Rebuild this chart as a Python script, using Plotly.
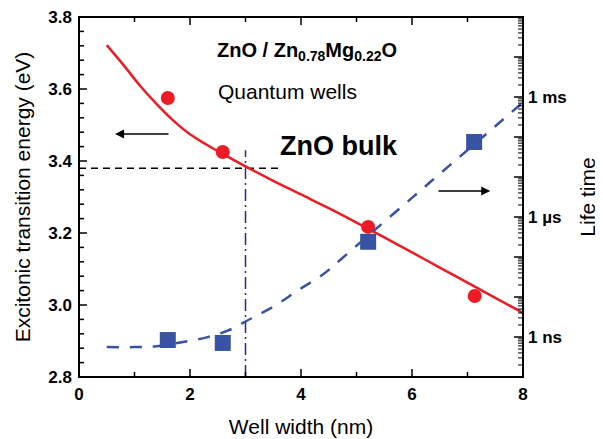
import plotly.graph_objects as go

# measured data points
energy_width = [1.6, 2.59, 5.21, 7.13]
energy_eV = [3.575, 3.425, 3.217, 3.025]
life_width = [1.6, 2.59, 5.21, 7.12]
life_s = [8.4e-10, 7.1e-10, 2.4e-7, 7.5e-5]

# fitted curves
fit_width = [0.5, 0.8, 1.1, 1.4, 1.7, 2.0, 2.3, 2.6, 3.0, 3.5, 4.0, 4.5, 5.0, 5.5, 6.0, 6.5, 7.0, 7.5, 8.0]
fit_energy = [3.722, 3.667, 3.609, 3.558, 3.512, 3.474, 3.445, 3.419, 3.385, 3.345, 3.307, 3.269,
              3.229, 3.188, 3.146, 3.104, 3.062, 3.020, 2.978]
lfit_width = [0.5, 1.0, 1.4, 1.85, 2.3, 2.7, 3.1, 3.55, 3.95, 4.4, 4.7, 5.3, 6.0, 6.5, 7.0, 7.5, 8.0]
lfit_s = [5.6e-10, 5.6e-10, 5.9e-10, 7.4e-10, 9.8e-10, 1.48e-9, 2.9e-9, 6.3e-9, 1.48e-8, 3.7e-8,
          8.3e-8, 4.4e-7, 3.0e-6, 1.2e-5, 4.7e-5, 1.86e-4, 7.4e-4]

# reference lines (ZnO bulk)
bulk_h_x = [0.0, 3.66]
bulk_h_y = [3.38, 3.38]
bulk_v_x = [3.0, 3.0]
bulk_v_y = [2.8, 3.43]

# tick definitions
width_ticks = [0, 2, 4, 6, 8]
width_minor = [1, 3, 5, 7]
energy_ticks = [2.8, 3.0, 3.2, 3.4, 3.6, 3.8]
energy_ticktext = ["2.8", "3.0", "3.2", "3.4", "3.6", "3.8"]
energy_minor = [round(2.8 + 0.04 * i, 2) for i in range(1, 25) if i % 5 != 0]
life_tickvals = [1e-10, 1e-9, 1e-8, 1e-7, 1e-6, 1e-5, 1e-4, 1e-3, 1e-2, 1e-1]
life_label_vals = [1e-9, 1e-6, 1e-3]
life_label_text = ["1 ns", "1 µs", "1 ms"]
life_minor = [m * d for d in [1e-10, 1e-9, 1e-8, 1e-7, 1e-6, 1e-5, 1e-4, 1e-3, 1e-2] for m in range(2, 10)]

RED = "#ED1C24"
BLUE = "#3953A4"
FONT = "Liberation Sans, Arial, sans-serif"

fig = go.Figure()

fig.add_trace(go.Scatter(x=bulk_h_x, y=bulk_h_y, mode="lines",
                         line=dict(color="black", width=1.5, dash="7px,5px"), yaxis="y"))
fig.add_trace(go.Scatter(x=bulk_v_x, y=bulk_v_y, mode="lines",
                         line=dict(color="#2B2A7E", width=1.5, dash="12px,4px,2px,4px"), yaxis="y"))
fig.add_trace(go.Scatter(x=lfit_width, y=lfit_s, mode="lines", yaxis="y2",
                         line=dict(color=BLUE, width=2.5, dash="12px,11px", shape="spline")))
fig.add_trace(go.Scatter(x=life_width, y=life_s, mode="markers", yaxis="y2",
                         marker=dict(symbol="square", size=16, color=BLUE)))
fig.add_trace(go.Scatter(x=fit_width, y=fit_energy, mode="lines", yaxis="y",
                         line=dict(color=RED, width=2.5, shape="spline")))
fig.add_trace(go.Scatter(x=energy_width, y=energy_eV, mode="markers", yaxis="y",
                         marker=dict(symbol="circle", size=14, color=RED)))

annotations = [
    dict(x=2.45, y=3.703, xref="x", yref="y", xanchor="left", yanchor="middle", showarrow=False,
         text="<b>ZnO / Zn<sub>0.78</sub>Mg<sub>0.22</sub>O</b>", font=dict(size=20, color="black", family=FONT)),
    dict(x=2.47, y=3.594, xref="x", yref="y", xanchor="left", yanchor="middle", showarrow=False,
         text="Quantum wells", font=dict(size=21, color="black", family=FONT)),
    dict(x=3.58, y=3.442, xref="x", yref="y", xanchor="left", yanchor="middle", showarrow=False,
         text="<b>ZnO bulk</b>", font=dict(size=27, color="black", family=FONT)),
    dict(x=0.65, y=3.475, ax=1.64, ay=3.475, xref="x", yref="y", axref="x", ayref="y",
         showarrow=True, arrowhead=2, arrowsize=1.2, arrowwidth=1.5, arrowcolor="black", text=""),
    dict(x=7.41, y=3.317, ax=6.45, ay=3.317, xref="x", yref="y", axref="x", ayref="y",
         showarrow=True, arrowhead=2, arrowsize=1.2, arrowwidth=1.5, arrowcolor="black", text=""),
]

# frame and inward tick marks, placed through the axes' own scales
shapes = [dict(type="rect", xref="paper", yref="paper", x0=0, x1=1, y0=0, y1=1,
               line=dict(color="black", width=2), fillcolor="rgba(0,0,0,0)", layer="above")]


def xtick(v, length):
    for anchor, sign in ((0, 1), (1, -1)):
        shapes.append(dict(type="line", xref="x", yref="paper", x0=v, x1=v,
                           ysizemode="pixel", yanchor=anchor, y0=0, y1=sign * length,
                           line=dict(color="black", width=1.5), layer="above"))


def ytick(v, length, ref, anchor, sign, width):
    shapes.append(dict(type="line", xref="paper", yref=ref, y0=v, y1=v,
                       xsizemode="pixel", xanchor=anchor, x0=0, x1=sign * length,
                       line=dict(color="black", width=width), layer="above"))


for v in width_ticks:
    xtick(v, 8)
for v in width_minor:
    xtick(v, 5)
for v in energy_ticks:
    ytick(v, 8, "y", 0, 1, 1.5)
for v in energy_minor:
    ytick(v, 5, "y", 0, 1, 1.5)
for v in life_tickvals:
    ytick(v, 9, "y2", 1, -1, 1.5)
for v in life_minor:
    ytick(v, 5, "y2", 1, -1, 1)

axis_common = dict(showgrid=False, zeroline=False, automargin=False, showline=False, ticks="")

fig.update_layout(
    width=595, height=431,
    margin=dict(l=71, r=80, t=9, b=62, autoexpand=False),
    paper_bgcolor="white", plot_bgcolor="rgba(0,0,0,0)",
    showlegend=False,
    font=dict(family=FONT, color="black"),
    annotations=annotations,
    shapes=shapes,
    xaxis=dict(range=[0, 8], tickmode="array", tickvals=width_ticks,
               tickfont=dict(size=17, family=FONT, color="black", weight="bold"),
               ticklabelstandoff=5, ticklabeloverflow="allow",
               title=dict(text="Well width (nm)", font=dict(size=21, family=FONT), standoff=16),
               **axis_common),
    yaxis=dict(range=[2.8, 3.8], tickmode="array", tickvals=energy_ticks, ticktext=energy_ticktext,
               tickfont=dict(size=17, family=FONT, color="black", weight="bold"),
               ticklabelstandoff=6, ticklabeloverflow="allow",
               title=dict(text="Excitonic transition energy (eV)", font=dict(size=21, family=FONT), standoff=12),
               **axis_common),
    yaxis2=dict(type="log", range=[-10, -1], overlaying="y", side="right",
                tickmode="array", tickvals=life_label_vals, ticktext=life_label_text,
                tickfont=dict(size=17, family=FONT, color="black", weight="bold"),
                ticklabelstandoff=4, ticklabeloverflow="allow",
                title=dict(text="Life time", font=dict(size=21, family=FONT), standoff=14),
                **axis_common),
)

fig.write_html("out.html")
